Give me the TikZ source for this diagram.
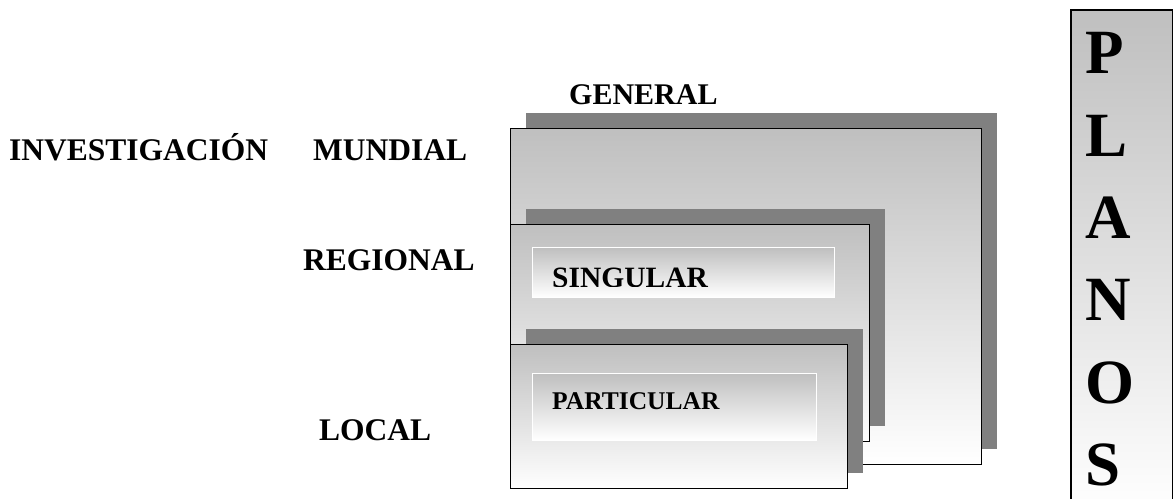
\documentclass[tikz,border=0pt]{standalone}
\usepackage{fontspec}
\setmainfont{Liberation Serif}
\usetikzlibrary{shadows}
\tikzset{
	nivel/.style={draw=black, line width=1.2pt, top color=black!25, bottom color=white,
		anchor=north west, inner sep=0pt,
		drop shadow={shadow xshift=15pt, shadow yshift=16pt, fill=black!50, opacity=1}},
	caja/.style={draw=white, line width=1pt, top color=black!25, bottom color=white,
		anchor=north west, inner sep=0pt},
	etiqueta/.style={anchor=base west, inner sep=0pt, font=\fontsize{31.5}{36}\selectfont\bfseries},
	letra/.style={anchor=base west, inner sep=0pt, font=\fontsize{63}{70}\selectfont\bfseries},
}

\begin{document}
\begin{tikzpicture}[x=1pt, y=-1pt]
	\useasboundingbox (0,0) rectangle (1174,498);
	% niveles
	\node[nivel, minimum width=471pt, minimum height=336pt] (mundial) at (510,128) {};
	\node[nivel, minimum width=359pt, minimum height=217pt] (regional) at (510,224) {};
	\node[caja, minimum width=302pt, minimum height=50pt] (singular) at (532,247) {};
	\begin{scope}
		\clip (singular.north west) rectangle ([yshift=12pt]singular.south east);
		\node[etiqueta, font=\fontsize{29.5}{34}\selectfont\bfseries] (singulartxt) at (552,287) {SINGULAR};
	\end{scope}
	\node[nivel, minimum width=337pt, minimum height=144pt] (local) at (510,344) {};
	\node[caja, minimum width=284pt, minimum height=67pt] (particular) at (532,373) {};
	\node[etiqueta, font=\fontsize{25.5}{30}\selectfont\bfseries] (particulartxt) at (552,409) {PARTICULAR};
	% etiquetas
	\node[etiqueta] (investigacion) at (9,160) {INVESTIGACIÓN};
	\node[etiqueta] (mundialtxt) at (313,160) {MUNDIAL};
	\node[etiqueta, font=\fontsize{30}{34}\selectfont\bfseries] (general) at (569,104) {GENERAL};
	\node[etiqueta] (regionaltxt) at (303,270) {REGIONAL};
	\node[etiqueta] (localtxt) at (319,440) {LOCAL};
	% planos
	\node[top color=black!25, bottom color=white, anchor=north west, inner sep=0pt,
		minimum width=101pt, minimum height=500pt] (planos) at (1071,10) {};
	\draw[line width=1.2pt] (planos.south west) |- (planos.north east) -- (planos.south east);
	\node[letra] (p) at (1085,73) {P};
	\node[letra] (l) at (1085,156) {L};
	\node[letra] (a) at (1085,238) {A};
	\node[letra] (n) at (1085,320) {N};
	\node[letra] (o) at (1085,403) {O};
	\node[letra] (s) at (1085,485) {S};
\end{tikzpicture}
\end{document}
